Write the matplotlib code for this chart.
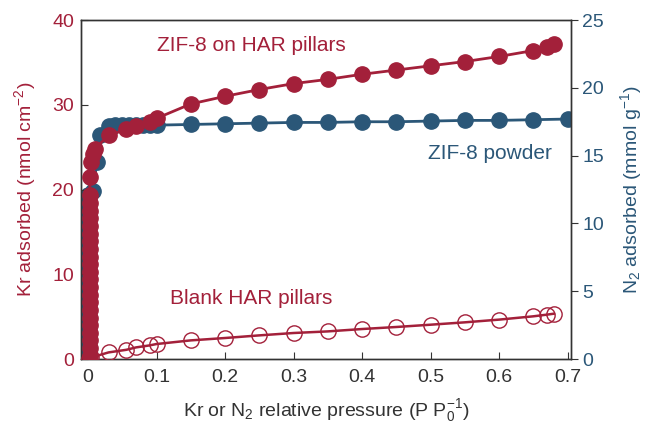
import matplotlib
matplotlib.use("Agg")
import matplotlib.pyplot as plt

plt.rcParams['font.family'] = ['Liberation Sans', 'DejaVu Sans']
plt.rcParams['mathtext.default'] = 'regular'

RED = '#a3203a'
BLUE = '#2b5778'

# ZIF-8 on HAR pillars, Kr (nmol cm-2), left axis
zif_har_p = [0.0025, 0.0025, 0.0025, 0.0025, 0.0025, 0.0025, 0.0025, 0.0025,
             0.0025, 0.0025, 0.0025, 0.0025, 0.0025, 0.0025, 0.0025, 0.0025,
             0.0025, 0.0025, 0.0025, 0.0025, 0.0025, 0.0025,
             0.003, 0.005, 0.008, 0.01, 0.03, 0.056, 0.07, 0.09, 0.1,
             0.15, 0.2, 0.25, 0.3, 0.35, 0.4, 0.45, 0.5, 0.55, 0.6,
             0.65, 0.67, 0.68]
zif_har_kr = [0.4, 1.3, 2.2, 3.1, 4.0, 4.9, 5.8, 6.7, 7.6, 8.5, 9.4, 10.3,
              11.2, 12.1, 13.0, 13.9, 14.8, 15.7, 16.6, 17.5, 18.4, 19.4,
              21.5, 23.2, 24.2, 24.8, 26.4, 27.1, 27.5, 28.0, 28.4,
              30.1, 31.0, 31.8, 32.5, 33.0, 33.6, 34.1, 34.6, 35.1, 35.7,
              36.4, 36.8, 37.2]

# ZIF-8 powder, N2 (mmol g-1), right axis
powder_p = [0.0003, 0.0003, 0.0003, 0.0003, 0.0003, 0.0003, 0.0003, 0.0003,
            0.0003, 0.0003, 0.0003, 0.0003, 0.0003, 0.0003, 0.0003, 0.0003,
            0.0003, 0.0003, 0.0003, 0.0003, 0.0003,
            0.007, 0.013, 0.0175, 0.03, 0.04, 0.05, 0.06, 0.07, 0.08, 0.09,
            0.1, 0.15, 0.2, 0.25, 0.3, 0.35, 0.4, 0.45, 0.5, 0.55, 0.6,
            0.65, 0.7]
powder_n2 = [0.3, 0.9, 1.5, 2.1, 2.7, 3.3, 3.9, 4.5, 5.1, 5.7, 6.3, 6.9,
             7.5, 8.1, 8.7, 9.3, 9.9, 10.5, 11.1, 11.6, 12.1,
             12.4, 14.5, 16.5, 17.2, 17.25, 17.25, 17.25, 17.25, 17.25, 17.25,
             17.25, 17.3, 17.35, 17.4, 17.45, 17.45, 17.5, 17.5, 17.55, 17.6,
             17.6, 17.65, 17.7]

# Blank HAR pillars, Kr (nmol cm-2), left axis
blank_p = [0.002, 0.005, 0.03, 0.056, 0.07, 0.09, 0.1, 0.15, 0.2, 0.25,
           0.3, 0.35, 0.4, 0.45, 0.5, 0.55, 0.6, 0.65, 0.67, 0.68]
blank_kr = [0.05, 0.2, 0.79, 1.1, 1.38, 1.62, 1.78, 2.21, 2.49, 2.8,
            3.08, 3.27, 3.55, 3.79, 4.06, 4.34, 4.66, 5.05, 5.25, 5.36]

fig = plt.figure(figsize=(6.49, 4.26), dpi=100)
ax = fig.add_axes([0.125, 0.157, 0.755, 0.796])
ax2 = ax.twinx()

ax2.plot(powder_p, powder_n2, '-o', color=BLUE, lw=2, ms=11, zorder=2)
ax.plot(blank_p, blank_kr, '-o', color=RED, lw=1.8, ms=11,
        mfc='none', mew=1.0, zorder=3)
ax.plot(zif_har_p, zif_har_kr, '-o', color=RED, lw=2, ms=11, zorder=4)

# red axis drawn over the blue one
ax.set_zorder(ax2.get_zorder() + 1)
ax.patch.set_visible(False)

ax.set_xlim(-0.01, 0.705)
ax.set_ylim(0, 40)
ax2.set_ylim(0, 25)

ax.set_xticks([0, 0.1, 0.2, 0.3, 0.4, 0.5, 0.6, 0.7])
ax.set_xticklabels(['0', '0.1', '0.2', '0.3', '0.4', '0.5', '0.6', '0.7'])
ax.set_yticks([0, 10, 20, 30, 40])
ax2.set_yticks([0, 5, 10, 15, 20, 25])

ax.tick_params(axis='x', direction='in', length=5, labelsize=14, colors='#333333', pad=7)
ax.tick_params(axis='y', direction='in', length=5, labelsize=14, colors='#333333',
               labelcolor=RED, pad=5)
ax2.tick_params(axis='y', direction='out', length=5, labelsize=14, colors='#333333',
                labelcolor=BLUE, pad=3)

for a in (ax, ax2):
    for s in a.spines.values():
        s.set_color('#333333')
        s.set_linewidth(1.0)

ax.set_xlabel('Kr or N$_2$ relative pressure (P P$_0^{-1}$)', fontsize=14,
              color='#333333', labelpad=8)
ax.set_ylabel('Kr adsorbed (nmol cm$^{-2}$)', fontsize=14, color=RED, labelpad=10)
ax2.set_ylabel('N$_2$ adsorbed (mmol g$^{-1}$)', fontsize=14, color=BLUE, labelpad=10)

ax.text(0.238, 37.0, 'ZIF-8 on HAR pillars', color=RED, fontsize=15,
        ha='center', va='center')
ax.text(0.587, 24.3, 'ZIF-8 powder', color=BLUE, fontsize=15,
        ha='center', va='center')
ax.text(0.238, 7.1, 'Blank HAR pillars', color=RED, fontsize=15,
        ha='center', va='center')

fig.savefig('out.png', dpi=100)
